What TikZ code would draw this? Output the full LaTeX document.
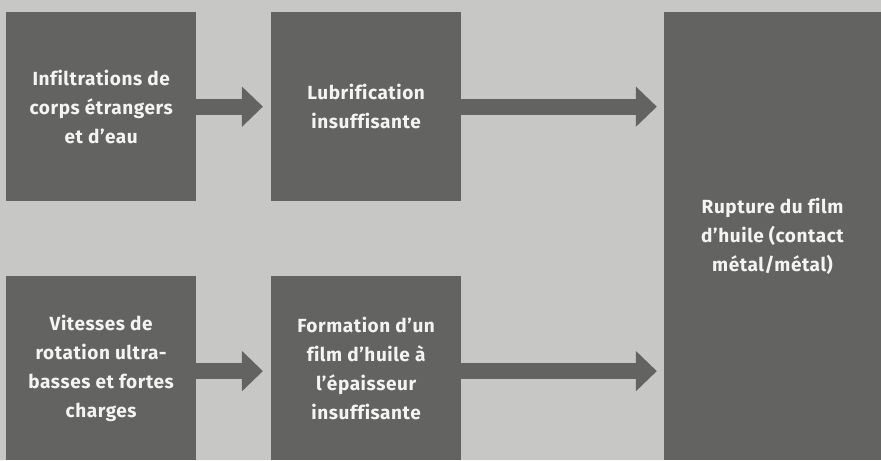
\documentclass[tikz,border=0pt]{standalone}
\usepackage{fontspec}
\setmainfont{Fira Sans}[Ligatures={NoCommon}, LetterSpace=3]
\usepackage{xcolor}
\usetikzlibrary{arrows.meta}
\definecolor{bggray}{RGB}{199,200,198}
\definecolor{boxgray}{RGB}{99,99,97}
\definecolor{txtgray}{RGB}{244,244,244}
\begin{document}
\begin{tikzpicture}[x=1pt, y=-1pt,
            stage/.style={fill=boxgray, text=txtgray, align=center, inner sep=0pt,
                font=\fontsize{19}{29}\selectfont\bfseries, anchor=north west},
            flow/.style={draw=boxgray, line width=16pt,
                -{Triangle[length=21pt, width=39pt]}}]
        \fill[bggray] (0,0) rectangle (881,460);

        \node[stage, minimum width=190pt, minimum height=189pt] (infil) at (6,12) {Infiltrations de\\corps étrangers\\et d’eau};
        \node[stage, minimum width=190pt, minimum height=189pt] (lubri) at (271,12) {Lubrification\\insuffisante};
        \node[stage, minimum width=190pt, minimum height=184pt] (vites) at (6,276) {Vitesses de\\rotation ultra-\\basses et fortes\\charges};
        \node[stage, minimum width=190pt, minimum height=184pt] (forma) at (271,276) {Formation d’un\\film d’huile à\\l’épaisseur\\insuffisante};
        \node[stage, minimum width=217pt, minimum height=448pt] (rupt) at (664,12) {Rupture du film\\d’huile (contact\\métal/métal)};

        \draw[flow, shorten >=8pt] (infil.east) -- (lubri.west);
        \draw[flow, shorten >=7pt] (lubri.east) -- (lubri.east -| rupt.west);
        \draw[flow, shorten >=8pt] ([yshift=-3pt]vites.east) -- ([yshift=-3pt]forma.west);
        \draw[flow, shorten >=7pt] ([yshift=-3pt]forma.east) -- ([yshift=-3pt]forma.east -| rupt.west);
\end{tikzpicture}
\end{document}
